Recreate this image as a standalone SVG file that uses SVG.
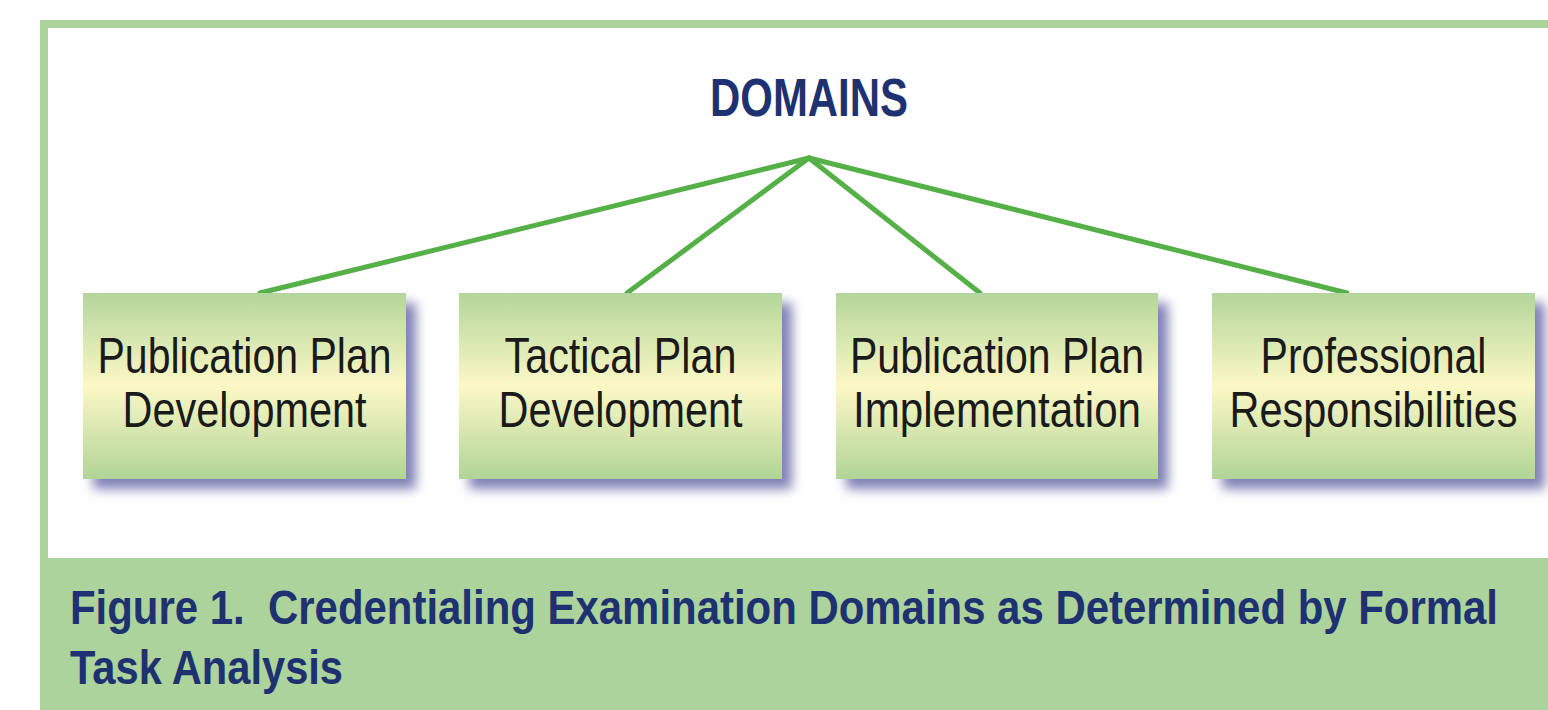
<svg xmlns="http://www.w3.org/2000/svg" width="1548" height="710" viewBox="0 0 1548 710">
<defs>
<linearGradient id="boxGrad" x1="0" y1="0" x2="0" y2="1">
<stop offset="0" stop-color="#b3d59b"/>
<stop offset="0.5" stop-color="#fcf8c6"/>
<stop offset="1" stop-color="#b0d497"/>
</linearGradient>
<filter id="shadow" x="-10%" y="-10%" width="130%" height="140%">
<feGaussianBlur in="SourceAlpha" stdDeviation="6"/>
<feOffset dx="10" dy="10" result="b"/>
<feFlood flood-color="#7272ad" flood-opacity="0.9"/>
<feComposite in2="b" operator="in" result="s"/>
<feMerge><feMergeNode in="s"/><feMergeNode in="SourceGraphic"/></feMerge>
</filter>
</defs>
<style>
.box{fill:url(#boxGrad);filter:url(#shadow);}
.lbl{font-family:"Liberation Sans Narrow","Liberation Sans",Arial,sans-serif;font-size:50px;fill:#1a1a1a;}
.title{font-family:"Liberation Sans Narrow","Liberation Sans",Arial,sans-serif;font-weight:bold;fill:#1e3170;}
.conn{stroke:#55b047;stroke-width:5;fill:none;stroke-linecap:round;}
</style>
<rect x="0" y="0" width="1548" height="710" fill="#ffffff"/>
<g id="frame">
<rect x="40" y="20" width="1508" height="8" fill="#acd39b"/>
<rect x="40" y="20" width="8" height="540" fill="#acd39b"/>
<rect x="40" y="558" width="1508" height="152" fill="#acd39b"/>
</g>
<g id="domains">
<text class="title" x="809" y="116" font-size="53" text-anchor="middle" textLength="198" lengthAdjust="spacingAndGlyphs">DOMAINS</text>
</g>
<g id="connectors">
<line class="conn" x1="809" y1="158" x2="260" y2="293"/>
<line class="conn" x1="809" y1="158" x2="627" y2="293"/>
<line class="conn" x1="809" y1="158" x2="980" y2="293"/>
<line class="conn" x1="809" y1="158" x2="1347" y2="293"/>
</g>
<g id="node1">
<rect class="box" x="83" y="293" width="323" height="186"/>
<text class="lbl" x="244.5" y="373" text-anchor="middle" textLength="294" lengthAdjust="spacingAndGlyphs">Publication Plan</text>
<text class="lbl" x="244.5" y="427" text-anchor="middle" textLength="244" lengthAdjust="spacingAndGlyphs">Development</text>
</g>
<g id="node2">
<rect class="box" x="459" y="293" width="323" height="186"/>
<text class="lbl" x="620.5" y="373" text-anchor="middle" textLength="232" lengthAdjust="spacingAndGlyphs">Tactical Plan</text>
<text class="lbl" x="620.5" y="427" text-anchor="middle" textLength="244" lengthAdjust="spacingAndGlyphs">Development</text>
</g>
<g id="node3">
<rect class="box" x="836" y="293" width="322" height="186"/>
<text class="lbl" x="997" y="373" text-anchor="middle" textLength="294" lengthAdjust="spacingAndGlyphs">Publication Plan</text>
<text class="lbl" x="997" y="427" text-anchor="middle" textLength="288" lengthAdjust="spacingAndGlyphs">Implementation</text>
</g>
<g id="node4">
<rect class="box" x="1212" y="293" width="323" height="186"/>
<text class="lbl" x="1373.5" y="373" text-anchor="middle" textLength="226" lengthAdjust="spacingAndGlyphs">Professional</text>
<text class="lbl" x="1373.5" y="427" text-anchor="middle" textLength="288" lengthAdjust="spacingAndGlyphs">Responsibilities</text>
</g>
<g id="caption">
<text class="title" x="70" y="624" font-size="49" textLength="1428" lengthAdjust="spacingAndGlyphs" xml:space="preserve">Figure 1.  Credentialing Examination Domains as Determined by Formal</text>
<text class="title" x="70" y="684" font-size="49" textLength="273" lengthAdjust="spacingAndGlyphs">Task Analysis</text>
</g>
</svg>
